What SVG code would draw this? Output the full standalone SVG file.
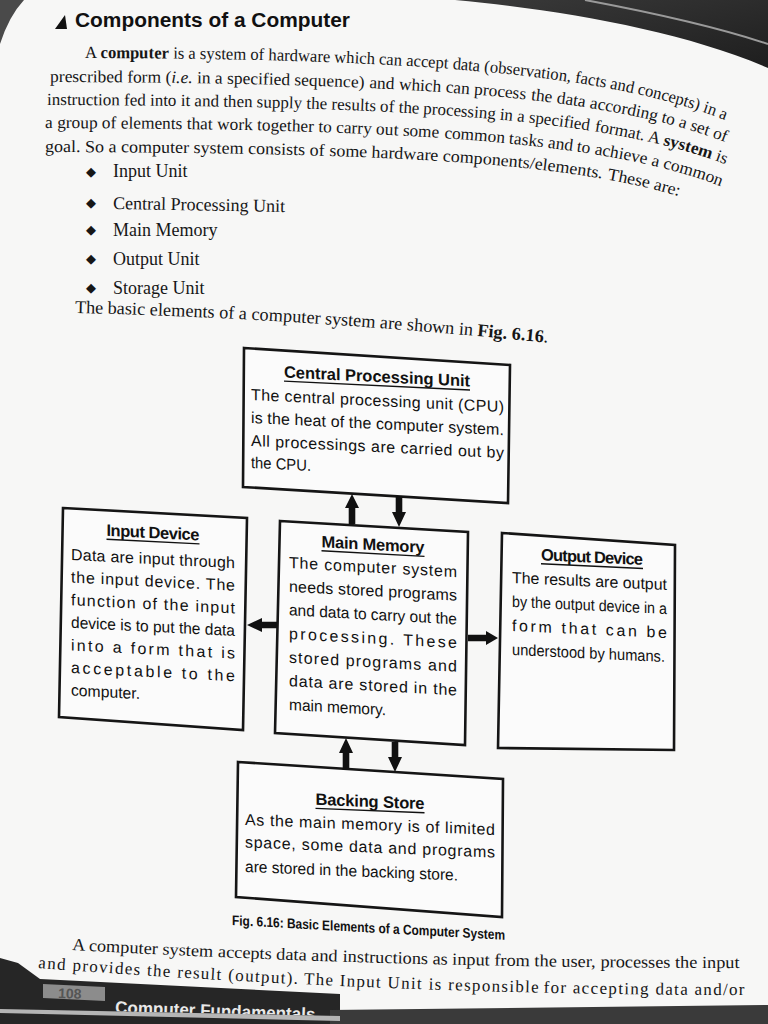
<svg xmlns="http://www.w3.org/2000/svg" width="768" height="1024" viewBox="0 0 768 1024">
<style>
.para{font-family:"Liberation Serif","Times New Roman",serif;font-size:17px;fill:#161616}
.bul{font-family:"Liberation Serif","Times New Roman",serif;font-size:18px;fill:#161616}
.dia{font-family:"DejaVu Sans",sans-serif;font-size:13px;fill:#161616}
.box{fill:#fbfbfb;stroke:#151515;stroke-width:2.6;stroke-linejoin:miter}
.ttl{font-family:"Liberation Sans",Arial,sans-serif;font-size:16.5px;font-weight:bold;fill:#111;text-anchor:middle}
.ul{stroke:#111;stroke-width:1.4}
.bt{font-family:"Liberation Sans",Arial,sans-serif;font-size:16px;fill:#111}
.arr{fill:#111}
</style>
<defs>
<path id="p1" d="M 85 58 C 400 59 600 71 725 120 l 40 16"/>
<path id="p2" d="M 50 82 C 400 83 600 94 725 142 l 40 16"/>
<path id="p3" d="M 47 105 C 400 106 600 117 725 164 l 40 15"/>
<path id="p4" d="M 45 128 C 400 129 600 140 720 186 l 40 15"/>
<path id="p5" d="M 45 152 C 380 153 560 161 678 196 l 40 11"/>
<path id="p6" d="M 75 313 Q 300 318 550 343 l 30 3"/>
<path id="b1" d="M 72 950 Q 400 968 745 968 l 30 0"/>
<path id="b2" d="M 38 968 Q 400 995 745 995 l 30 0"/>
<linearGradient id="dk" x1="0" y1="0" x2="1" y2="1">
<stop offset="0" stop-color="#3a3a3a"/><stop offset="1" stop-color="#1e1e1e"/>
</linearGradient>
<clipPath id="footclip"><polygon points="0,980 340,994 340,1016 0,1009"/></clipPath>
</defs>

<rect x="0" y="0" width="768" height="1024" fill="#f7f7f6"/>

<g id="background">
<path d="M 455 0 C 560 10 680 30 768 68 L 768 0 Z" fill="url(#dk)"/>
<path d="M 585 0 C 660 14 720 28 768 44" fill="none" stroke="#9a9a9a" stroke-width="2"/>
<path d="M 0 0 L 24 0 Q 9 16 0 44 Z" fill="#4a4a4a"/>
</g>

<g id="heading">
<polygon points="55,29 65,15 67,29" fill="#111"/>
<text x="75" y="27" font-family="'Liberation Sans',Arial,sans-serif" font-size="20" font-weight="bold" fill="#111" textLength="275" lengthAdjust="spacingAndGlyphs">Components of a Computer</text>
</g>

<g id="intro">
<text class="para"><textPath href="#p1" startOffset="0" textLength="245" lengthAdjust="spacingAndGlyphs">A <tspan font-weight="bold">computer</tspan> is a system of hardware</textPath></text>
<text class="para"><textPath href="#p1" startOffset="249" textLength="146" lengthAdjust="spacingAndGlyphs">which can accept data</textPath></text>
<text class="para"><textPath href="#p1" startOffset="399" textLength="151" lengthAdjust="spacingAndGlyphs">(observation, facts and</textPath></text>
<text class="para"><textPath href="#p1" startOffset="554" textLength="92" lengthAdjust="spacingAndGlyphs">concepts) in a</textPath></text>

<text class="para"><textPath href="#p2" startOffset="0" textLength="314" lengthAdjust="spacingAndGlyphs">prescribed form (<tspan font-style="italic">i.e.</tspan> in a specified sequence)</textPath></text>
<text class="para"><textPath href="#p2" startOffset="319" textLength="157" lengthAdjust="spacingAndGlyphs">and which can process</textPath></text>
<text class="para"><textPath href="#p2" startOffset="481" textLength="128" lengthAdjust="spacingAndGlyphs">the data according</textPath></text>
<text class="para"><textPath href="#p2" startOffset="613" textLength="68" lengthAdjust="spacingAndGlyphs">to a set of</textPath></text>

<text class="para"><textPath href="#p3" startOffset="0" textLength="372" lengthAdjust="spacingAndGlyphs">instruction fed into it and then supply the results of the</textPath></text>
<text class="para"><textPath href="#p3" startOffset="376" textLength="167" lengthAdjust="spacingAndGlyphs">processing in a specified</textPath></text>
<text class="para"><textPath href="#p3" startOffset="548" textLength="136" lengthAdjust="spacingAndGlyphs">format. A <tspan font-weight="bold">system</tspan> is</textPath></text>

<text class="para"><textPath href="#p4" startOffset="0" textLength="394" lengthAdjust="spacingAndGlyphs">a group of elements that work together to carry out some</textPath></text>
<text class="para"><textPath href="#p4" startOffset="399" textLength="129" lengthAdjust="spacingAndGlyphs">common tasks and</textPath></text>
<text class="para"><textPath href="#p4" startOffset="532" textLength="149" lengthAdjust="spacingAndGlyphs">to achieve a common</textPath></text>

<text class="para"><textPath href="#p5" startOffset="0" textLength="322" lengthAdjust="spacingAndGlyphs">goal. So a computer system consists of some</textPath></text>
<text class="para"><textPath href="#p5" startOffset="326" textLength="232" lengthAdjust="spacingAndGlyphs">hardware components/elements.</textPath></text>
<text class="para"><textPath href="#p5" startOffset="563" textLength="74" lengthAdjust="spacingAndGlyphs">These are:</textPath></text>
</g>

<g id="bullets">
<text class="dia" x="86" y="176">◆</text><text class="bul" x="113" y="177">Input Unit</text>
<text class="dia" x="86" y="207">◆</text><text class="bul" x="113" y="209" transform="rotate(1 113 209)">Central Processing Unit</text>
<text class="dia" x="86" y="234">◆</text><text class="bul" x="113" y="236">Main Memory</text>
<text class="dia" x="86" y="263">◆</text><text class="bul" x="113" y="265">Output Unit</text>
<text class="dia" x="86" y="292">◆</text><text class="bul" x="113" y="294">Storage Unit</text>
<text class="bul"><textPath href="#p6" textLength="474" lengthAdjust="spacingAndGlyphs">The basic elements of a computer system are shown in <tspan font-weight="bold">Fig. 6.16</tspan>.</textPath></text>
</g>

<g id="cpu">
<polygon class="box" points="244,348 510,365 508,503 243,487"/>
<g transform="translate(251,400) skewY(2.75)">
<text class="ttl" x="126" y="-24" textLength="186">Central Processing Unit</text>
<line class="ul" x1="33" y1="-20.5" x2="219" y2="-20.5"/>
<text class="bt" x="0" y="0" textLength="253">The central processing unit (CPU)</text>
<text class="bt" x="0" y="23" textLength="253">is the heat of the computer system.</text>
<text class="bt" x="0" y="46" textLength="253">All processings are carried out by</text>
<text class="bt" x="0" y="68" textLength="60" lengthAdjust="spacingAndGlyphs">the CPU.</text>
</g>
</g>

<g id="input">
<polygon class="box" points="63,508 247,518 243,730 59,717"/>
<g transform="translate(71,560) skewY(2.86)">
<text class="ttl" x="82" y="-26" textLength="93">Input Device</text>
<line class="ul" x1="35.5" y1="-22.5" x2="128.5" y2="-22.5"/>
<text class="bt" x="0" y="0" textLength="164">Data are input through</text>
<text class="bt" x="0" y="22.6" textLength="164">the input device. The</text>
<text class="bt" x="0" y="45.2" textLength="164">function of the input</text>
<text class="bt" x="0" y="67.8" textLength="164" lengthAdjust="spacingAndGlyphs">device is to put the data</text>
<text class="bt" x="0" y="90.4" textLength="164">into a form that is</text>
<text class="bt" x="0" y="113" textLength="164">acceptable to the</text>
<text class="bt" x="0" y="135.6" textLength="69" lengthAdjust="spacingAndGlyphs">computer.</text>
</g>
</g>

<g id="memory">
<polygon class="box" points="280,521 468,532 465,745 275,733"/>
<g transform="translate(289,568) skewY(3.1)">
<text class="ttl" x="84" y="-22.5" textLength="103">Main Memory</text>
<line class="ul" x1="32.5" y1="-19" x2="135.5" y2="-19"/>
<text class="bt" x="0" y="0" textLength="168">The computer system</text>
<text class="bt" x="0" y="23.7" textLength="168">needs stored programs</text>
<text class="bt" x="0" y="47.3" textLength="168" lengthAdjust="spacingAndGlyphs">and data to carry out the</text>
<text class="bt" x="0" y="71" textLength="168">processing. These</text>
<text class="bt" x="0" y="94.7" textLength="168">stored programs and</text>
<text class="bt" x="0" y="118.3" textLength="168">data are stored in the</text>
<text class="bt" x="0" y="142" textLength="97" lengthAdjust="spacingAndGlyphs">main memory.</text>
</g>
</g>

<g id="output">
<polygon class="box" points="502,533 675,545 674,750 498,748"/>
<g transform="translate(512,583) skewY(2.6)">
<text class="ttl" x="80" y="-24" textLength="102">Output Device</text>
<line class="ul" x1="29" y1="-20.5" x2="131" y2="-20.5"/>
<text class="bt" x="0" y="0" textLength="155" lengthAdjust="spacingAndGlyphs">The results are output</text>
<text class="bt" x="0" y="24" textLength="155" lengthAdjust="spacingAndGlyphs">by the output device in a</text>
<text class="bt" x="0" y="48" textLength="155">form that can be</text>
<text class="bt" x="0" y="72" textLength="153" lengthAdjust="spacingAndGlyphs">understood by humans.</text>
</g>
</g>

<g id="backing">
<polygon class="box" points="238,762 503,779 502,917 236,897"/>
<g transform="translate(245,825) skewY(2.3)">
<text class="ttl" x="125" y="-23" textLength="109">Backing Store</text>
<line class="ul" x1="70.5" y1="-19.5" x2="179.5" y2="-19.5"/>
<text class="bt" x="0" y="0" textLength="250">As the main memory is of limited</text>
<text class="bt" x="0" y="22.5" textLength="250">space, some data and programs</text>
<text class="bt" x="0" y="47" textLength="213" lengthAdjust="spacingAndGlyphs">are stored in the backing store.</text>
</g>
</g>

<g id="connectors">
<polygon class="arr" points="352,494 359,508 355.3,508 355.3,524 348.7,524 348.7,508 345,508"/>
<polygon class="arr" points="395.7,496 402.3,496 402.3,512 406,512 399,527 392,512 395.7,512"/>
<polygon class="arr" points="247,625 262,618 262,621.7 277,621.7 277,628.3 262,628.3 262,632"/>
<polygon class="arr" points="468,634.7 486,634.7 486,631 498,638 486,645 486,641.3 468,641.3"/>
<polygon class="arr" points="346,738 353,753 349.3,753 349.3,770 342.7,770 342.7,753 339,753"/>
<polygon class="arr" points="391.7,742 398.3,742 398.3,757 402,757 395,772 388,757 391.7,757"/>
</g>

<g id="caption">
<text transform="translate(232,925) skewY(3.1)" x="0" y="0" font-family="'Liberation Sans',Arial,sans-serif" font-size="14" font-weight="bold" fill="#111" textLength="273" lengthAdjust="spacingAndGlyphs">Fig. 6.16: Basic Elements of a Computer System</text>
</g>

<g id="closing">
<text class="para"><textPath href="#b1" startOffset="0" textLength="266" lengthAdjust="spacingAndGlyphs">A computer system accepts data and</textPath></text>
<text class="para"><textPath href="#b1" startOffset="271" textLength="253" lengthAdjust="spacingAndGlyphs">instructions as input from the user,</textPath></text>
<text class="para"><textPath href="#b1" startOffset="529" textLength="139" lengthAdjust="spacingAndGlyphs">processes the input</textPath></text>
<text class="para"><textPath href="#b2" startOffset="0" textLength="260" lengthAdjust="spacing">and provides the result (output).</textPath></text>
<text class="para"><textPath href="#b2" startOffset="266" textLength="235" lengthAdjust="spacing">The Input Unit is responsible</textPath></text>
<text class="para"><textPath href="#b2" startOffset="506" textLength="201" lengthAdjust="spacing">for accepting data and/or</textPath></text>
</g>

<g id="footer">
<polygon points="0,958 18,963 40,979 340,994 340,1024 0,1024" fill="#262626"/>
<polygon points="330,1010 768,1005 768,1024 330,1024" fill="#3a3a3a"/>
<polygon points="43,984 105,987 105,1001 43,998" fill="#8c8c8c"/>
<text x="58" y="998" transform="rotate(2 58 998)" font-family="'Liberation Sans',Arial,sans-serif" font-size="14" font-weight="bold" fill="#555">108</text>
<g clip-path="url(#footclip)">
<text x="115" y="1013" transform="rotate(2 115 1013)" font-family="'Liberation Sans',Arial,sans-serif" font-size="17" font-weight="bold" fill="#e8e8e8">Computer Fundamentals</text>
</g>
<polygon points="0,1009 340,1016 340,1021 0,1013" fill="#b5b5b5"/>
</g>
</svg>
